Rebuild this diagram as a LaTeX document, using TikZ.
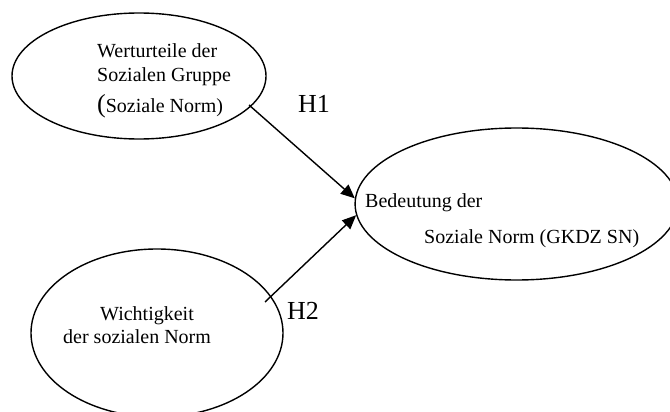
\documentclass[tikz,border=0pt]{standalone}
\usepackage{fontspec}
\setmainfont{Liberation Serif}
\usetikzlibrary{shapes.geometric,arrows.meta}

\tikzset{
  construct/.style={draw=black, line width=1.4pt, ellipse, inner sep=0pt},
  label/.style={inner sep=0pt, anchor=base west, font=\fontsize{20}{24}\selectfont},
  hyp/.style={inner sep=0pt, anchor=base west, font=\fontsize{26}{30}\selectfont},
  path/.style={draw=black, line width=1.4pt, -{Triangle[length=14pt,width=12pt]}}
}

\begin{document}
\begin{tikzpicture}[x=1pt, y=-1pt]
  \useasboundingbox (0,0) rectangle (670,412);
  \clip (0,0) rectangle (670,412);
  \fill[white] (0,0) rectangle (670,412);

  % latent constructs
  \node[construct, minimum width=254pt, minimum height=126pt] (werturteile) at (139,76) {};
  \node[construct, minimum width=323pt, minimum height=152pt] (bedeutung) at (516.6,204) {};
  \node[construct, minimum width=252pt, minimum height=168pt] (wichtigkeit) at (157,333) {};

  % texts inside the ellipses
  \node[label] (t1) at (97,58) {Werturteile der};
  \node[label] (t2) at (97,82) {Sozialen Gruppe};
  \node[label] (t3) at (97,113) {{\fontsize{26}{30}\selectfont(}Soziale Norm)};
  \node[label] (t4) at (365,207) {Bedeutung der};
  \node[label] (t5) at (424,243) {Soziale Norm (GKDZ SN)};
  \node[label] (t6) at (100,320) {Wichtigkeit};
  \node[label] (t7) at (63,343) {der sozialen Norm};

  % hypothesised paths
  \coordinate (h1start) at (249,105);
  \coordinate (h2start) at (265,302);
  \draw[path] (h1start) -- (bedeutung.178.5);
  \draw[path] (h2start) -- (bedeutung.184.3);

  \node[hyp] (h1) at (298,113) {H1};
  \node[hyp] (h2) at (287,319) {H2};
\end{tikzpicture}
\end{document}
